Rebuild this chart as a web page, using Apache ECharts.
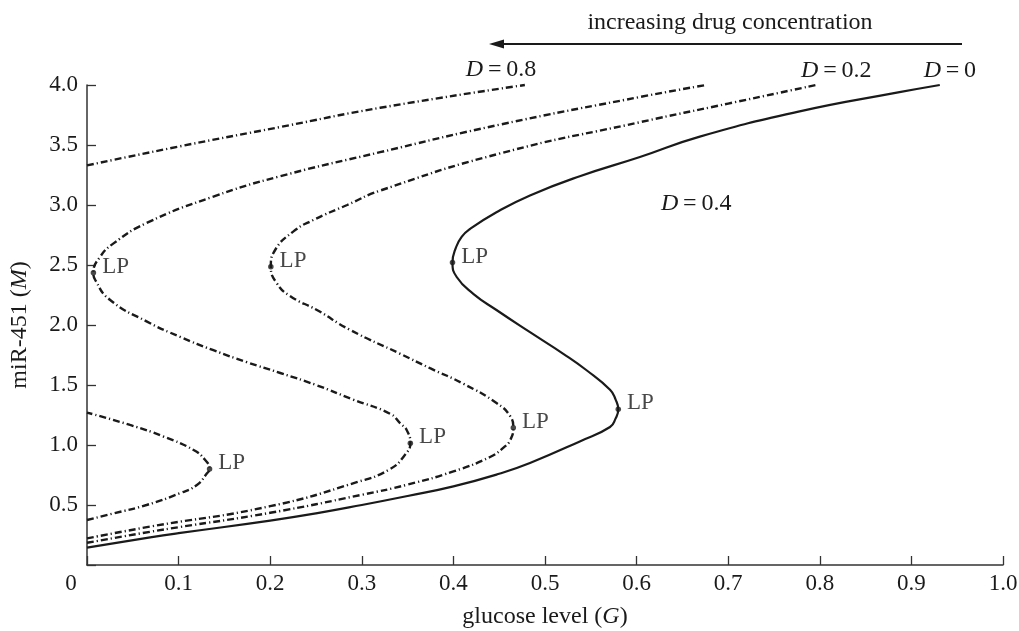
<!DOCTYPE html>
<html>
<head>
<meta charset="utf-8">
<script src="https://cdn.jsdelivr.net/npm/echarts@6/dist/echarts.min.js"></script>
<style>
  html, body { margin: 0; padding: 0; background: #ffffff; }
  #chart { width: 1019px; height: 631px; }
</style>
</head>
<body>
<div id="chart"></div>
<script>
// Steady states of miR-451 (M) against glucose level (G) for several drug doses D.
// Each curve is listed as [G, M] pairs in the order the branch is traced.

const curveD0 = [
  [0, 0.145], [0.069, 0.23], [0.1, 0.265], [0.2, 0.37], [0.25, 0.43], [0.3, 0.5],
  [0.35, 0.575], [0.4, 0.655], [0.45, 0.76], [0.4836, 0.85], [0.538, 1.03], [0.571, 1.15],
  [0.577, 1.22], [0.58, 1.297],
  [0.577, 1.38], [0.571, 1.46], [0.545, 1.625], [0.52, 1.76], [0.4836, 1.94], [0.447, 2.125],
  [0.4217, 2.26], [0.4036, 2.40], [0.399, 2.52],
  [0.403, 2.65], [0.409, 2.735], [0.418, 2.80], [0.447, 2.94], [0.4836, 3.08], [0.538, 3.24],
  [0.6036, 3.40], [0.669, 3.57], [0.778, 3.78], [0.887, 3.94], [0.931, 4.0]
];

const curveD02 = [
  [0, 0.185], [0.069, 0.277], [0.1, 0.315], [0.2, 0.435], [0.3, 0.585], [0.35, 0.67],
  [0.4, 0.78], [0.44, 0.9], [0.455, 0.98], [0.462, 1.04], [0.4654, 1.144],
  [0.462, 1.24], [0.447, 1.35], [0.411, 1.51], [0.3745, 1.64], [0.342, 1.76], [0.287, 1.96],
  [0.251, 2.125], [0.222, 2.24], [0.207, 2.35], [0.2007, 2.486],
  [0.2054, 2.625], [0.2254, 2.78], [0.247, 2.875], [0.284, 3.0], [0.32, 3.12], [0.451, 3.43],
  [0.6036, 3.69], [0.7, 3.845], [0.796, 4.0]
];

const curveD04 = [
  [0, 0.222], [0.069, 0.32], [0.2, 0.49], [0.2945, 0.69], [0.331, 0.8],
  [0.347, 0.917], [0.353, 1.014],
  [0.349, 1.125], [0.342, 1.18], [0.331, 1.26], [0.29, 1.38], [0.25, 1.5], [0.211, 1.60],
  [0.1745, 1.69], [0.138, 1.79], [0.102, 1.90], [0.065, 2.03], [0.025, 2.21], [0.009, 2.375],
  [0.007, 2.436],
  [0.0145, 2.57], [0.029, 2.68], [0.065, 2.85], [0.138, 3.07], [0.211, 3.24], [0.32, 3.44],
  [0.451, 3.67], [0.6036, 3.90], [0.676, 4.0]
];

const curveHighLower = [
  [0, 0.375], [0.029, 0.43], [0.065, 0.5], [0.102, 0.6], [0.12, 0.667], [0.131, 0.764],
  [0.1338, 0.8],
  [0.129, 0.875], [0.1164, 0.958], [0.0836, 1.07], [0.047, 1.167], [0, 1.27]
];

const curveHighUpper = [
  [0, 3.33], [0.102, 3.49], [0.211, 3.65], [0.32, 3.81], [0.478, 4.0]
];

// Dose labels, placed in (G, M) coordinates
const doseLabels = [
  { dose: '0.8', at: [0.452, 4.125] },
  { dose: '0.2', at: [0.818, 4.12] },
  { dose: '0',   at: [0.942, 4.12] },
  { dose: '0.4', at: [0.665, 3.01] }
];

const arrowText = 'increasing drug concentration';
const xAxisTitle = 'glucose level ({i|G})';
const yAxisTitle = 'miR-451 ({i|M})';

// Limit points: where a branch reverses direction in G
function limitPoints(curve) {
  const out = [];
  for (let i = 1; i < curve.length - 1; i++) {
    const a = curve[i][0] - curve[i - 1][0];
    const b = curve[i + 1][0] - curve[i][0];
    if (a * b < 0) out.push(curve[i]);
  }
  return out;
}

const lpPoints = [curveD0, curveD02, curveD04, curveHighLower]
  .reduce((acc, c) => acc.concat(limitPoints(c)), []);

const SERIF = '"Liberation Serif", "DejaVu Serif", serif';
const INK = '#1a1a1a';
const dashDot = [7, 3, 1.2, 3];
const TEXT_SIZE = 24;
const TICK_SIZE = 23;

const chart = echarts.init(document.getElementById('chart'), null, { renderer: 'canvas' });

function curveSeries(name, data, solid) {
  return {
    name: name,
    type: 'line',
    data: data,
    smooth: 0.5,
    showSymbol: false,
    symbol: 'none',
    silent: true,
    clip: false,
    lineStyle: {
      color: INK,
      width: solid ? 2.2 : 2.4,
      type: solid ? 'solid' : dashDot,
      cap: 'butt'
    },
    z: 3
  };
}

const italicRich = {
  i: { fontFamily: SERIF, fontStyle: 'italic', fontSize: TEXT_SIZE, color: INK }
};

chart.setOption({
  animation: false,
  backgroundColor: '#ffffff',
  grid: {
    left: 87, right: 16, top: 85, bottom: 66,
    containLabel: false,
    outerBoundsMode: 'none'
  },
  xAxis: {
    type: 'value',
    min: 0, max: 1, interval: 0.1,
    name: xAxisTitle,
    nameLocation: 'middle',
    nameGap: 40,
    nameTextStyle: { fontFamily: SERIF, fontSize: TEXT_SIZE, color: INK, rich: italicRich },
    axisLine: { show: true, lineStyle: { color: '#333333', width: 1.5 } },
    axisTick: { show: true, inside: true, length: 9, lineStyle: { color: '#333333', width: 1.3 } },
    splitLine: { show: false },
    axisLabel: {
      margin: 7,
      fontFamily: SERIF, fontSize: TICK_SIZE, color: INK,
      hideOverlap: false,
      formatter: v => (v === 0 ? '{z|0}' : v.toFixed(1)),
      rich: { z: { fontFamily: SERIF, fontSize: TICK_SIZE, color: INK, padding: [0, 32, 0, 0] } }
    }
  },
  yAxis: {
    type: 'value',
    min: 0, max: 4, interval: 0.5,
    name: yAxisTitle,
    nameLocation: 'middle',
    nameGap: 55,
    nameTextStyle: { fontFamily: SERIF, fontSize: TEXT_SIZE, color: INK, rich: italicRich },
    axisLine: { show: true, lineStyle: { color: '#333333', width: 1.5 } },
    axisTick: { show: true, inside: true, length: 9, lineStyle: { color: '#333333', width: 1.3 } },
    splitLine: { show: false },
    axisLabel: {
      margin: 9,
      fontFamily: SERIF, fontSize: TICK_SIZE, color: INK,
      formatter: v => (v === 0 ? '' : v.toFixed(1))
    }
  },
  series: [
    curveSeries('D0', curveD0, true),
    curveSeries('D0.2', curveD02, false),
    curveSeries('D0.4', curveD04, false),
    curveSeries('high-lower', curveHighLower, false),
    curveSeries('high-upper', curveHighUpper, false),
    {
      name: 'LP',
      type: 'scatter',
      data: lpPoints,
      symbol: 'circle',
      symbolSize: 5.5,
      silent: true,
      itemStyle: { color: INK },
      label: {
        show: true,
        position: 'right',
        distance: 6,
        offset: [0, -6],
        formatter: 'LP',
        fontFamily: SERIF,
        fontSize: TICK_SIZE,
        color: INK
      },
      z: 5
    }
  ]
});

// Annotations: dose labels at data coordinates, plus the drug-concentration arrow
const graphics = doseLabels.map(d => {
  const p = chart.convertToPixel({ gridIndex: 0 }, d.at);
  return {
    type: 'text',
    x: p[0], y: p[1],
    silent: true,
    style: {
      text: '{i|D}\u2009=\u2009' + d.dose,
      fontFamily: SERIF, fontSize: TEXT_SIZE, fill: INK,
      align: 'center', verticalAlign: 'middle',
      rich: { i: { fontFamily: SERIF, fontStyle: 'italic', fontSize: TEXT_SIZE, fill: INK } }
    }
  };
});

graphics.push(
  {
    type: 'line', silent: true,
    shape: { x1: 962, y1: 44, x2: 498, y2: 44 },
    style: { stroke: INK, lineWidth: 2.2 }
  },
  {
    type: 'polygon', silent: true,
    shape: { points: [[489, 44], [504, 39.5], [504, 48.5]] },
    style: { fill: INK }
  },
  {
    type: 'text', silent: true,
    x: 730, y: 23,
    style: {
      text: arrowText,
      fontFamily: SERIF, fontSize: TEXT_SIZE, fill: INK,
      align: 'center', verticalAlign: 'middle'
    }
  }
);

chart.setOption({ graphic: graphics });
</script>
</body>
</html>
